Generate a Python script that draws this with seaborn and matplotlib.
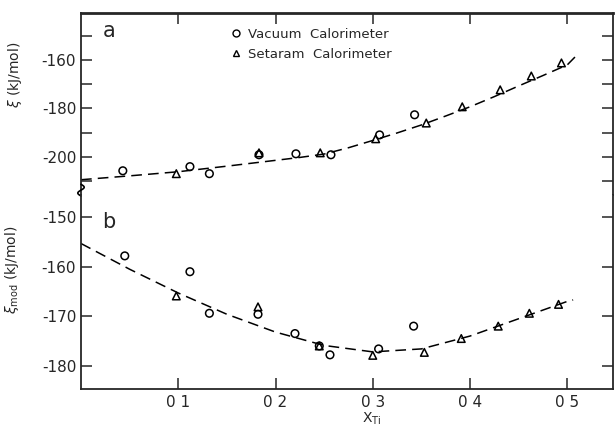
import seaborn as sns
import matplotlib.pyplot as plt
import numpy as np
import pandas as pd

# panel a: xi
x_vac_a = [0.043, 0.112, 0.132, 0.183, 0.221, 0.257, 0.307, 0.343]
xi_vac = [-205.7, -204.0, -206.9, -199.1, -198.7, -199.1, -190.9, -182.6]
x_set_a = [0.098, 0.183, 0.246, 0.303, 0.355, 0.392, 0.431, 0.463, 0.494]
xi_set = [-206.9, -198.3, -198.3, -192.5, -186.0, -179.3, -172.3, -166.6, -161.2]
fit_x_a = [0.0, 0.05, 0.1, 0.15, 0.2, 0.225, 0.25, 0.275, 0.3, 0.325, 0.35, 0.375,
           0.4, 0.425, 0.45, 0.475, 0.5, 0.511]
fit_a = [-209.4, -207.8, -206.1, -203.8, -201.4, -200.2, -198.8, -196.2, -193.2, -190.1,
         -186.8, -183.1, -179.3, -175.1, -170.7, -166.4, -162.0, -157.5]

# panel b: xi_mod
x_vac_b = [0.045, 0.112, 0.132, 0.182, 0.220, 0.245, 0.256, 0.306, 0.342]
mod_vac = [-157.8, -161.0, -169.4, -169.6, -173.5, -176.0, -177.8, -176.6, -172.0]
x_set_b = [0.098, 0.182, 0.245, 0.300, 0.353, 0.391, 0.429, 0.461, 0.491]
mod_set = [-165.9, -168.1, -176.0, -177.9, -177.3, -174.5, -172.0, -169.4, -167.6]
fit_x_b = [0.0, 0.05, 0.1, 0.15, 0.2, 0.25, 0.3, 0.35, 0.4, 0.45, 0.5, 0.506]
fit_b = [-155.3, -160.5, -165.3, -169.6, -173.2, -175.9, -177.2, -176.6, -174.0, -170.5,
         -167.0, -166.7]

x_ticks = [0.1, 0.2, 0.3, 0.4, 0.5]
x_ticklabels = ['0 1', '0 2', '0 3', '0 4', '0 5']
ya_major = [-160, -180, -200]
ya_minor = [-150, -170, -190, -210]
yb_ticks = [-150, -160, -170, -180]

labels = ['Vacuum  Calorimeter', 'Setaram  Calorimeter']

def make_df(xv, yv, xs, ys):
    return pd.DataFrame({
        'x': list(xv) + list(xs),
        'y': list(yv) + list(ys),
        'src': [labels[0]] * len(xv) + [labels[1]] * len(xs),
    })

df_a = make_df(x_vac_a, xi_vac, x_set_a, xi_set)
df_b = make_df(x_vac_b, mod_vac, x_set_b, mod_set)

sns.set_style('ticks')
plt.rcParams['font.family'] = ['DejaVu Sans']
plt.rcParams['axes.linewidth'] = 1.3

W, H = 615, 426
fig = plt.figure(figsize=(W / 100, H / 100), dpi=100)
ax_a = fig.add_axes([81 / W, (H - 195) / H, 532 / W, 182 / H])
ax_b = fig.add_axes([81 / W, (H - 389) / H, 532 / W, 194 / H])

markers = {labels[0]: 'o', labels[1]: '^'}
for ax, df, fx, fy in [(ax_a, df_a, fit_x_a, fit_a), (ax_b, df_b, fit_x_b, fit_b)]:
    sns.lineplot(x=fx, y=fy, ax=ax, color='black', lw=1.1,
                 linestyle=(0, (7, 4)), sort=False)
    sns.scatterplot(data=df, x='x', y='y', style='src', markers=markers, ax=ax,
                    s=30, facecolor='none', edgecolor='black', linewidth=1.1,
                    legend=False, zorder=3)
    ax.set_xlim(0, 0.547)
    ax.set_xlabel('')
    ax.set_ylabel('')
    ax.tick_params(direction='in', length=8, width=1.1, labelsize=11,
                   left=True, right=True)

# panel a
ax_a.set_ylim(-215.7, -140.6)
ax_a.set_yticks(ya_major)
ax_a.set_yticklabels([str(v) for v in ya_major])
ax_a.set_yticks(ya_minor, minor=True)
ax_a.tick_params(which='minor', direction='in', length=8, width=1.1, left=True, right=True)
ax_a.set_xticks(x_ticks)
ax_a.tick_params(axis='x', top=True, bottom=False, labelbottom=False)
ax_a.spines['bottom'].set_visible(False)
ax_a.spines['top'].set_linewidth(2)
ax_a.text(0.04, 0.9, 'a', transform=ax_a.transAxes, fontsize=15, va='center')

handles = [plt.Line2D([], [], ls='none', marker=markers[l], markersize=5,
                      markerfacecolor='none', markeredgecolor='black', markeredgewidth=1.0)
           for l in labels]
ax_a.legend(handles, labels, loc='upper left', bbox_to_anchor=(0.26, 0.97), frameon=False,
            fontsize=9.5, handletextpad=0.3, labelspacing=0.55, borderpad=0.2,
            handlelength=1.2)

# panel b
ax_b.set_ylim(-184.7, -145.5)
ax_b.set_yticks(yb_ticks)
ax_b.set_yticklabels([str(v) for v in yb_ticks])
ax_b.set_xticks(x_ticks)
ax_b.set_xticklabels(x_ticklabels)
ax_b.tick_params(axis='x', pad=4)
ax_b.spines['top'].set_visible(False)
ax_b.text(0.04, 0.86, 'b', transform=ax_b.transAxes, fontsize=15, va='center')

# small wavy break mark on the left spine
t = np.linspace(0, 1, 30)
ax_b.plot(-0.006 * np.sin(2 * np.pi * t), 0.995 + 0.06 * t,
          transform=ax_b.transAxes, color='black', lw=1.2, clip_on=False)

fig.text(15 / W, 1 - 75 / H, r'$\xi$ (kJ/mol)', rotation=90, ha='center', va='center',
         fontsize=10)
fig.text(12 / W, 1 - 270 / H, r'$\xi_{\rm mod}$ (kJ/mol)', rotation=90, ha='center',
         va='center', fontsize=10)
fig.text(372 / W, 1 - 419 / H, r'X$_{\rm Ti}$', ha='center', va='center', fontsize=10)

fig.savefig('out.png', dpi=100)
